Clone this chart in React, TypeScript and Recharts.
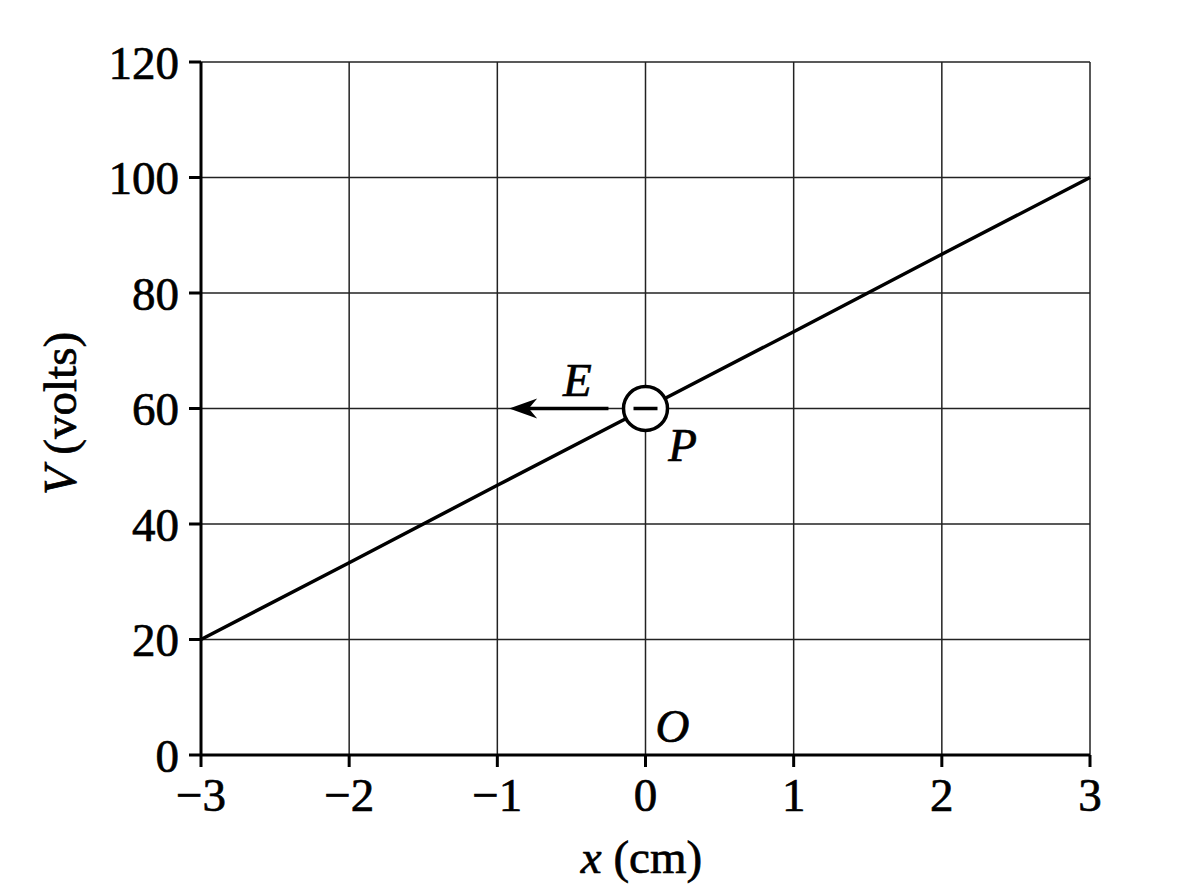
import React from "react";
import {
  LineChart, Line, XAxis, YAxis, CartesianGrid,
  ReferenceLine, ReferenceDot, Label,
} from "recharts";

// x (cm) and V (volts)
const xValues = [-3, -2, -1, 0, 1, 2, 3];
const voltage = [20, 33.3, 46.7, 60, 73.3, 86.7, 100];
const xTicks = [-3, -2, -1, 0, 1, 2, 3];
const yTicks = [0, 20, 40, 60, 80, 100, 120];

// annotations
const charge = { x: 0, y: 60 };
const fieldArrow = [{ x: -0.25, y: 60 }, { x: -0.92, y: 60 }];
const fieldLabel = { x: -0.48, y: 60, text: "E" };
const originLabel = { x: 0, y: 0, text: "O" };

const data = xValues.map((x, i) => ({ x, v: voltage[i] }));

const FONT = "'Liberation Serif', 'Times New Roman', serif";
const FS = 47;
const INK = { fill: "#000", stroke: "#000", strokeWidth: 0.7 };

function fmtX(v: number): string {
  return v < 0 ? `\u2212${Math.abs(v)}` : `${v}`;
}

// eslint-disable-next-line @typescript-eslint/no-explicit-any
function ArrowShape(props: any) {
  const { x1, y1, x2, y2 } = props;
  const dir = x2 < x1 ? 1 : -1;
  const head = 28;
  return (
    <g>
      <line x1={x1} y1={y1} x2={x2 + dir * head * 0.6} y2={y2} stroke="#000" strokeWidth={3.5} />
      <path
        d={`M${x2},${y2} L${x2 + dir * head},${y2 - 10} L${x2 + dir * head * 0.7},${y2} L${x2 + dir * head},${y2 + 10} Z`}
        fill="#000"
      />
    </g>
  );
}

// eslint-disable-next-line @typescript-eslint/no-explicit-any
function ChargeShape(props: any) {
  const { cx, cy } = props;
  return (
    <g>
      <circle cx={cx} cy={cy} r={22} fill="#fff" stroke="#000" strokeWidth={3.5} />
      <line x1={cx - 12} y1={cy} x2={cx + 12} y2={cy} stroke="#000" strokeWidth={3.5} />
      <text x={cx + 37} y={cy + 52} textAnchor="middle" fontFamily={FONT} fontSize={FS} fontStyle="italic" {...INK}>
        P
      </text>
    </g>
  );
}

function textShape(text: string, dx: number, dy: number) {
  // eslint-disable-next-line @typescript-eslint/no-explicit-any
  return (props: any) => (
    <text x={props.cx + dx} y={props.cy + dy} textAnchor="middle" fontFamily={FONT} fontSize={FS} fontStyle="italic" {...INK}>
      {text}
    </text>
  );
}

// eslint-disable-next-line @typescript-eslint/no-explicit-any
function YLabel(props: any) {
  const { viewBox } = props;
  const cx = 60;
  const cy = viewBox.y + viewBox.height / 2 + 5;
  return (
    <text
      x={cx}
      y={cy}
      transform={`rotate(-90, ${cx}, ${cy})`}
      textAnchor="middle"
      dominantBaseline="central"
      fontFamily={FONT}
      fontSize={FS}
      {...INK}
    >
      <tspan fontStyle="italic">V</tspan> (volts)
    </text>
  );
}

// eslint-disable-next-line @typescript-eslint/no-explicit-any
function XLabel(props: any) {
  const { viewBox } = props;
  const cx = viewBox.x + viewBox.width / 2 - 4;
  return (
    <text x={cx} y={873} textAnchor="middle" fontFamily={FONT} fontSize={FS} {...INK}>
      <tspan fontStyle="italic">x</tspan> (cm)
    </text>
  );
}

const tickStyle = { fontSize: FS, fontFamily: FONT, ...INK };

export default function App() {
  return (
    <div style={{ position: "absolute", left: 0, top: 0, width: 1200, height: 896, background: "#fff" }}>
      <LineChart
        width={1200}
        height={896}
        data={data}
        margin={{ top: 62, right: 110, bottom: 0, left: 0 }}
      >
        <CartesianGrid stroke="#222" strokeWidth={1.5} />
        <XAxis
          type="number"
          dataKey="x"
          domain={[-3, 3]}
          ticks={xTicks}
          tickFormatter={fmtX}
          tick={tickStyle}
          tickSize={12}
          tickMargin={11}
          axisLine={{ stroke: "#000", strokeWidth: 3 }}
          tickLine={{ stroke: "#000", strokeWidth: 3 }}
          height={141}
        >
          <Label content={<XLabel />} />
        </XAxis>
        <YAxis
          type="number"
          domain={[0, 120]}
          ticks={yTicks}
          tick={tickStyle}
          tickSize={12}
          tickMargin={10}
          axisLine={{ stroke: "#000", strokeWidth: 3 }}
          tickLine={{ stroke: "#000", strokeWidth: 3 }}
          width={201}
        >
          <Label content={<YLabel />} />
        </YAxis>
        <Line
          type="linear"
          dataKey="v"
          stroke="#000"
          strokeWidth={3.5}
          dot={false}
          activeDot={false}
          isAnimationActive={false}
        />
        <ReferenceLine segment={fieldArrow} ifOverflow="visible" shape={<ArrowShape />} />
        <ReferenceDot x={fieldLabel.x} y={fieldLabel.y} ifOverflow="visible" shape={textShape(fieldLabel.text, 3, -13)} />
        <ReferenceDot x={originLabel.x} y={originLabel.y} ifOverflow="visible" shape={textShape(originLabel.text, 27, -13)} />
        <ReferenceDot x={charge.x} y={charge.y} ifOverflow="visible" shape={<ChargeShape />} />
      </LineChart>
    </div>
  );
}
